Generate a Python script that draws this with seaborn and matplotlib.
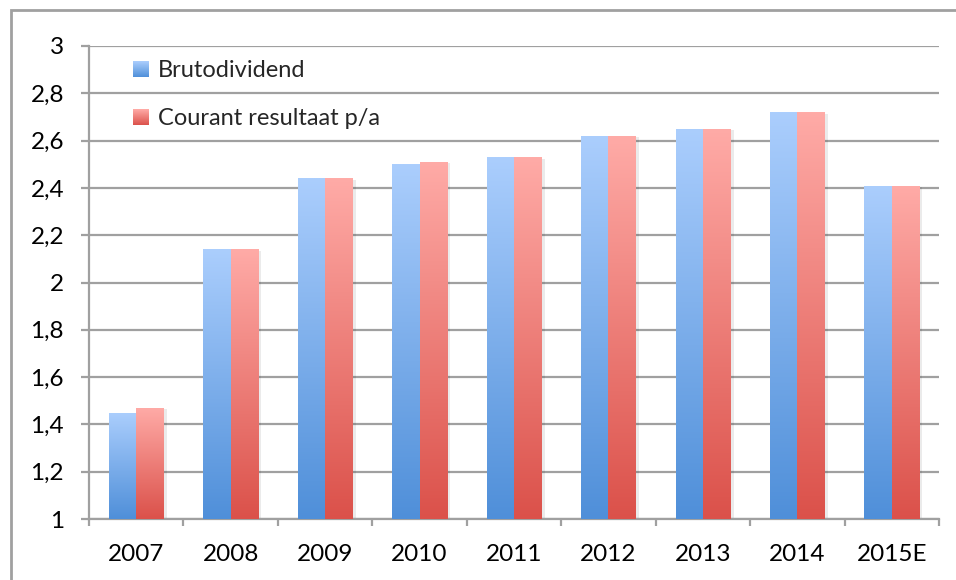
import numpy as np
import pandas as pd
import matplotlib
matplotlib.use("Agg")
import matplotlib.pyplot as plt
import seaborn as sns
from matplotlib.colors import LinearSegmentedColormap
from matplotlib.patches import Rectangle, Patch
from matplotlib.legend_handler import HandlerBase

years = ["2007", "2008", "2009", "2010", "2011", "2012", "2013", "2014", "2015E"]
brutodividend = [1.45, 2.14, 2.44, 2.50, 2.53, 2.62, 2.65, 2.72, 2.41]
courant = [1.47, 2.14, 2.44, 2.51, 2.53, 2.62, 2.65, 2.72, 2.41]
series_names = ["Brutodividend", "Courant resultaat p/a"]
yticks = [1, 1.2, 1.4, 1.6, 1.8, 2, 2.2, 2.4, 2.6, 2.8, 3]

df = pd.DataFrame({
    "year": years * 2,
    "value": brutodividend + courant,
    "series": [series_names[0]] * len(years) + [series_names[1]] * len(years),
})

sns.set_theme(style="white")
plt.rcParams["font.family"] = ["Lato", "DejaVu Sans"]

fig = plt.figure(figsize=(9.56, 5.8), dpi=100)
ax = fig.add_axes([89 / 956, 1 - 519 / 580, (939 - 89) / 956, (519 - 46) / 580])

palette = {series_names[0]: "#7fb0ec", series_names[1]: "#f08a84"}
sns.barplot(data=df, x="year", y="value", hue="series", palette=palette,
            width=0.58, ax=ax, legend=False, zorder=3)

ax.set_ylim(1, 3)
ax.set_xlim(-0.5, len(years) - 0.5)

grads = {
    series_names[0]: LinearSegmentedColormap.from_list("b", ["#4f8fd9", "#abcefd"]),
    series_names[1]: LinearSegmentedColormap.from_list("r", ["#db514a", "#ffaba7"]),
}
grad = np.linspace(0, 1, 256).reshape(-1, 1)
patches = list(ax.patches)
n = len(years)
for i, p in enumerate(patches):
    s = series_names[0] if i < n else series_names[1]
    x0, y0 = p.get_x(), p.get_y()
    w, h = p.get_width(), p.get_height()
    y0 = max(y0, 1)
    top = p.get_y() + h
    sh = Rectangle((x0 + w * 0.12, y0), w, top - y0 - 0.006, facecolor="#000000",
                   alpha=0.08, edgecolor="none", zorder=2.5)
    ax.add_patch(sh)
    im = ax.imshow(grad, cmap=grads[s], origin="lower", aspect="auto",
                   extent=[x0, x0 + w, y0, top], zorder=3, interpolation="bilinear")
    im.set_clip_path(p)
    p.set_facecolor("none")
    p.set_edgecolor("none")

ax.set_xlim(-0.5, len(years) - 0.5)
ax.set_ylim(1, 3)

ax.set_yticks(yticks)
ax.set_yticklabels([("%g" % v).replace(".", ",") for v in yticks])
ax.grid(axis="y", color="#a0a0a0", linewidth=1.6, zorder=0)
ax.set_axisbelow(True)
ax.set_xlabel("")
ax.set_ylabel("")

for side in ["top", "right"]:
    ax.spines[side].set_visible(False)
for side in ["left", "bottom"]:
    ax.spines[side].set_color("#a0a0a0")
    ax.spines[side].set_linewidth(1.6)

ax.set_xticks(np.arange(-0.5, len(years), 1.0), minor=True)
ax.tick_params(axis="x", which="minor", length=5, width=1.6, color="#a0a0a0", direction="out", bottom=True)
ax.tick_params(axis="x", which="major", length=0, labelsize=17.5, pad=18, colors="black")
ax.tick_params(axis="y", which="major", length=6, width=1.6, color="#a0a0a0", direction="out",
               labelsize=17.5, pad=12, left=True, labelcolor="black")


class GradientHandler(HandlerBase):
    def __init__(self, cmap, **kw):
        super().__init__(**kw)
        self.cmap = cmap

    def create_artists(self, legend, orig_handle, xdescent, ydescent, width, height, fontsize, trans):
        k = 16
        arts = []
        for j in range(k):
            c = self.cmap((j + 0.5) / k)
            r = Rectangle((-xdescent, -ydescent + height * j / k), width, height / k + 0.3,
                          facecolor=c, edgecolor="none", transform=trans)
            arts.append(r)
        return arts


handles = [Patch(facecolor="#80b1ee", edgecolor="none"), Patch(facecolor="#ef8983", edgecolor="none")]
ax.legend(handles, series_names, loc="upper left", bbox_to_anchor=(0.027, 1.015),
          frameon=False, fontsize=17, labelspacing=1.15, handlelength=0.65, handleheight=0.65,
          handletextpad=0.4,
          handler_map={handles[0]: GradientHandler(grads[series_names[0]]),
                       handles[1]: GradientHandler(grads[series_names[1]])})

fig.patches.append(Rectangle((11 / 956, -0.5), 2, 0.5 + (1 - 10 / 580), transform=fig.transFigure,
                             facecolor="none", edgecolor="#a0a0a0", linewidth=2))

fig.savefig("out.png", dpi=100)
